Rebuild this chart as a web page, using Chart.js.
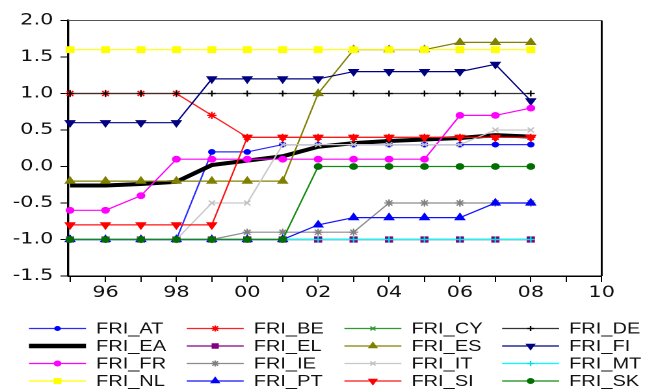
<!DOCTYPE html>
<html>
<head>
<meta charset="utf-8">
<script src="https://cdn.jsdelivr.net/npm/chart.js@4.4.1/dist/chart.umd.min.js"></script>
<style>
    html, body { margin: 0; padding: 0; background: #fff; overflow: hidden; }
    #wrap { width: 496px; height: 390px; transform: scaleX(1.3004); transform-origin: 0 0; }
</style>
</head>
<body>
<div id="wrap"><canvas id="friChart" width="496" height="390"></canvas></div>
<script>
const years = [1995, 1996, 1997, 1998, 1999, 2000, 2001, 2002, 2003, 2004, 2005, 2006, 2007, 2008];

const friAT = [-1, -1, -1, -1, 0.2, 0.2, 0.3, 0.3, 0.3, 0.3, 0.3, 0.3, 0.3, 0.3];
const friBE = [1, 1, 1, 1, 0.7, 0.4, 0.4, 0.4, 0.4, 0.4, 0.4, 0.4, 0.4, 0.4];
const friCY = [-1, -1, -1, -1, -1, -1, -1, -1, -1, -1, -1, -1, -1, -1];
const friDE = [1, 1, 1, 1, 1, 1, 1, 1, 1, 1, 1, 1, 1, 1];
const friEA = [-0.26, -0.26, -0.24, -0.21, 0.02, 0.08, 0.14, 0.27, 0.32, 0.35, 0.37, 0.39, 0.43, 0.41];
const friEL = [-1, -1, -1, -1, -1, -1, -1, -1, -1, -1, -1, -1, -1, -1];
const friES = [-0.2, -0.2, -0.2, -0.2, -0.2, -0.2, -0.2, 1.0, 1.6, 1.6, 1.6, 1.7, 1.7, 1.7];
const friFI = [0.6, 0.6, 0.6, 0.6, 1.2, 1.2, 1.2, 1.2, 1.3, 1.3, 1.3, 1.3, 1.4, 0.9];
const friFR = [-0.6, -0.6, -0.4, 0.1, 0.1, 0.1, 0.1, 0.1, 0.1, 0.1, 0.1, 0.7, 0.7, 0.8];
const friIE = [-1, -1, -1, -1, -1, -0.9, -0.9, -0.9, -0.9, -0.5, -0.5, -0.5, -0.5, -0.5];
const friIT = [-1, -1, -1, -1, -0.5, -0.5, 0.3, 0.3, 0.3, 0.3, 0.3, 0.3, 0.5, 0.5];
const friMT = [-1, -1, -1, -1, -1, -1, -1, -1, -1, -1, -1, -1, -1, -1];
const friNL = [1.6, 1.6, 1.6, 1.6, 1.6, 1.6, 1.6, 1.6, 1.6, 1.6, 1.6, 1.6, 1.6, 1.6];
const friPT = [-1, -1, -1, -1, -1, -1, -1, -0.8, -0.7, -0.7, -0.7, -0.7, -0.5, -0.5];
const friSI = [-0.8, -0.8, -0.8, -0.8, -0.8, 0.4, 0.4, 0.4, 0.4, 0.4, 0.4, 0.4, 0.4, 0.4];
const friSK = [-1, -1, -1, -1, -1, -1, -1, 0, 0, 0, 0, 0, 0, 0];

const seriesNames = [
    "FRI_AT", "FRI_BE", "FRI_CY", "FRI_DE",
    "FRI_EA", "FRI_EL", "FRI_ES", "FRI_FI",
    "FRI_FR", "FRI_IE", "FRI_IT", "FRI_MT",
    "FRI_NL", "FRI_PT", "FRI_SI", "FRI_SK",
];
const seriesValues = [
    friAT, friBE, friCY, friDE,
    friEA, friEL, friES, friFI,
    friFR, friIE, friIT, friMT,
    friNL, friPT, friSI, friSK,
];

const xTicks = [1995, 1996, 1997, 1998, 1999, 2000, 2001, 2002, 2003, 2004, 2005, 2006, 2007, 2008, 2009, 2010];
const xTickLabels = ["", "96", "", "98", "", "00", "", "02", "", "04", "", "06", "", "08", "", "10"];
const yTicks = [-1.5, -1.0, -0.5, 0, 0.5, 1.0, 1.5, 2.0];
const yTickLabels = ["-1.5", "-1.0", "-0.5", "0.0", "0.5", "1.0", "1.5", "2.0"];

// styling, kept apart from the values
const lineColors = [
    "#2a2aff", "#ff2020", "#2e9a2e", "#333333",
    "#000000", "#800080", "#808000", "#000080",
    "#ff00ff", "#8c8c8c", "#c8c8c8", "#00ffff",
    "#ffff00", "#1010ff", "#ff1010", "#138a13",
];
const markerColors = [
    "#0000ff", "#ff0000", "#2e9a2e", "#000000",
    "#000000", "#800080", "#808000", "#000080",
    "#ff00ff", "#808080", "#c0c0c0", "#00e0e0",
    "#ffff00", "#0000ff", "#ff0000", "#007000",
];
const markers = [
    { style: "circle", radius: 2.3, rotation: 0 },
    { style: "star", radius: 3.6, rotation: 0 },
    { style: "crossRot", radius: 3.2, rotation: 0 },
    { style: "cross", radius: 3, rotation: 0 },
    { style: "circle", radius: 0, rotation: 0 },
    { style: "rect", radius: 3.6, rotation: 0 },
    { style: "triangle", radius: 4, rotation: 0 },
    { style: "triangle", radius: 4, rotation: 180 },
    { style: "circle", radius: 2.8, rotation: 0 },
    { style: "star", radius: 3.6, rotation: 0 },
    { style: "crossRot", radius: 3.4, rotation: 0 },
    { style: "cross", radius: 3, rotation: 0 },
    { style: "rect", radius: 4, rotation: 0 },
    { style: "triangle", radius: 4, rotation: 0 },
    { style: "triangle", radius: 4, rotation: 180 },
    { style: "circle", radius: 2.8, rotation: 0 },
];

const STRETCH = 645 / 496;

const frameAndLegend = {
    id: "frameAndLegend",
    beforeDatasetsDraw(chart) {
        const { ctx, chartArea: a } = chart;
        ctx.save();
        ctx.strokeStyle = "#555";
        ctx.lineWidth = 1;
        ctx.beginPath();
        ctx.moveTo(a.left, a.top);
        ctx.lineTo(a.right, a.top);
        ctx.stroke();
        ctx.strokeStyle = "#000";
        ctx.lineWidth = 1.5;
        ctx.beginPath();
        ctx.moveTo(a.right, a.top);
        ctx.lineTo(a.right, a.bottom);
        ctx.stroke();
        ctx.restore();
    },
    afterDraw(chart) {
        const ctx = chart.ctx;
        const drawPoint = Chart.helpers && Chart.helpers.drawPoint;
        ctx.save();
        ctx.font = "15.4px 'Liberation Sans', Arial, sans-serif";
        ctx.textBaseline = "middle";
        ctx.textAlign = "left";
        chart.data.datasets.forEach((ds, i) => {
            const col = i % 4;
            const row = Math.floor(i / 4);
            const off = col * 157.7;
            const y = 328.5 + row * 17.5;
            const x0 = (29 + off) / STRETCH;
            const x1 = (86 + off) / STRETCH;
            const xm = (57.5 + off) / STRETCH;
            const xt = (96 + off) / STRETCH;

            ctx.strokeStyle = ds.borderColor;
            ctx.lineWidth = i === 4 ? 4.5 : 1.2;
            ctx.beginPath();
            ctx.moveTo(x0, y);
            ctx.lineTo(x1, y);
            ctx.stroke();

            if (drawPoint && ds.pointRadius > 0) {
                ctx.fillStyle = ds.pointBackgroundColor;
                ctx.strokeStyle = ds.pointBorderColor;
                ctx.lineWidth = ds.pointBorderWidth;
                drawPoint(ctx, {
                    pointStyle: ds.pointStyle,
                    rotation: ds.pointRotation,
                    radius: ds.pointRadius * 0.85,
                    borderWidth: ds.pointBorderWidth,
                }, xm, y);
            }

            ctx.fillStyle = "#111";
            ctx.fillText(ds.label, xt, y + 0.5);
        });
        ctx.restore();
    },
};

function initFriChart() {
    const canvas = document.getElementById("friChart");
    if (!canvas || !window.Chart) return;

    new Chart(canvas, {
        type: "line",
        data: {
            datasets: seriesNames.map((name, i) => ({
                label: name,
                data: years.map((yr, j) => ({ x: yr, y: seriesValues[i][j] })),
                borderColor: lineColors[i],
                backgroundColor: markerColors[i],
                borderWidth: i === 4 ? 4 : 1.2,
                pointStyle: markers[i].style,
                pointRadius: markers[i].radius,
                pointRotation: markers[i].rotation,
                pointBackgroundColor: markerColors[i],
                pointBorderColor: markerColors[i],
                pointBorderWidth: 1.2,
                tension: 0,
                fill: false,
                clip: false,
                order: -i,
            })),
        },
        options: {
            responsive: false,
            animation: false,
            devicePixelRatio: 2,
            events: [],
            layout: { padding: { top: 20.5, right: 33.3, left: 0, bottom: 0 } },
            plugins: {
                legend: { display: false },
                tooltip: { enabled: false },
            },
            scales: {
                x: {
                    type: "linear",
                    min: 1994.95,
                    max: 2010,
                    afterBuildTicks: (s) => { s.ticks = xTicks.map((v) => ({ value: v })); },
                    afterFit: (s) => { s.height = 114; },
                    grid: { drawOnChartArea: false, drawTicks: true, tickLength: 6, tickColor: "#000", tickWidth: 1 },
                    border: { display: true, color: "#000", width: 1.5 },
                    ticks: {
                        autoSkip: false,
                        maxRotation: 0,
                        padding: 1,
                        color: "#111",
                        font: { family: "DejaVu Sans", size: 16 },
                        callback: (v, i) => xTickLabels[i],
                    },
                },
                y: {
                    type: "linear",
                    min: -1.5,
                    max: 2.0,
                    afterBuildTicks: (s) => { s.ticks = yTicks.map((v) => ({ value: v })); },
                    afterFit: (s) => { s.width = 52.5; },
                    grid: { drawOnChartArea: false, drawTicks: true, tickLength: 6, tickColor: "#000", tickWidth: 1 },
                    border: { display: true, color: "#000", width: 1.7 },
                    ticks: {
                        padding: 5.5,
                        color: "#111",
                        font: { family: "DejaVu Sans", size: 16 },
                        callback: (v, i) => yTickLabels[i],
                    },
                },
            },
        },
        plugins: [frameAndLegend],
    });
}

document.addEventListener("DOMContentLoaded", initFriChart);
</script>
</body>
</html>
